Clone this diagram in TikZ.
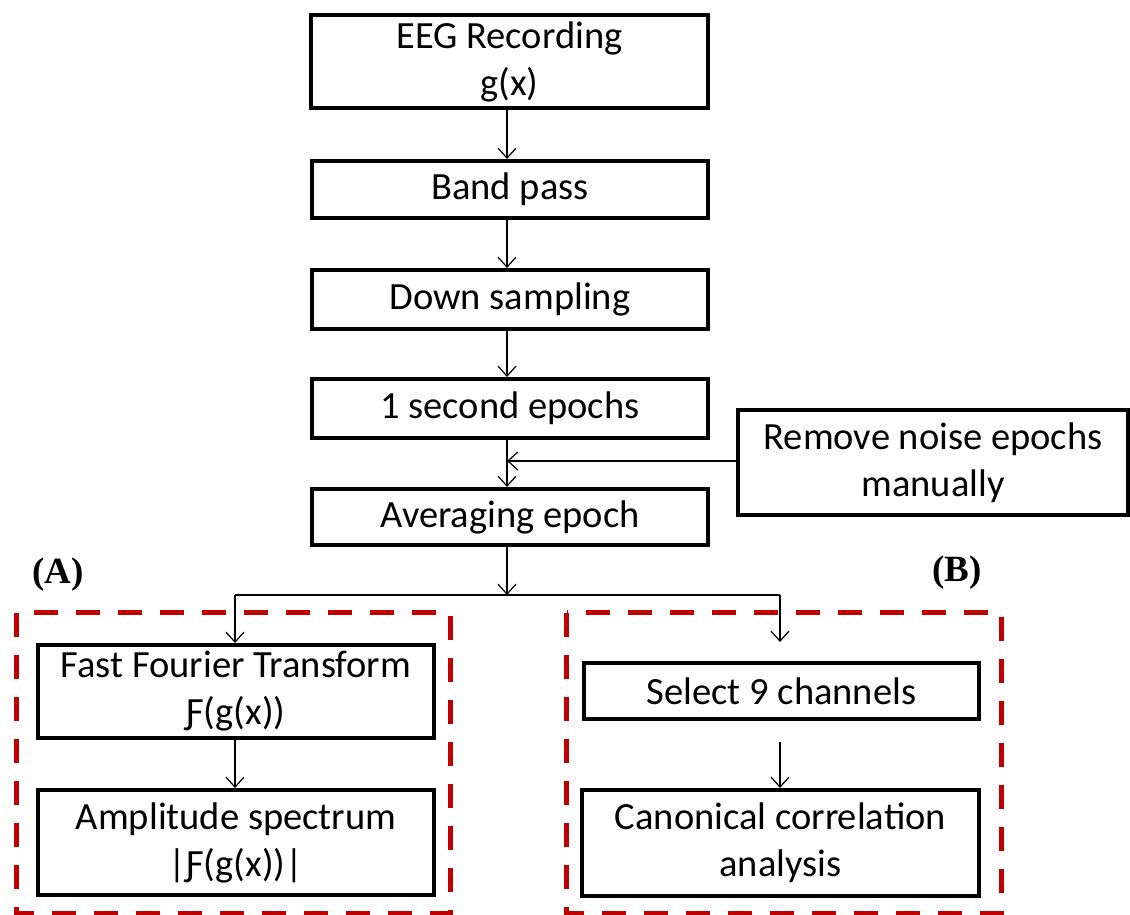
\documentclass[tikz,border=0pt]{standalone}
\usepackage{fontspec}
\setmainfont{Carlito}
\newfontfamily\labelfont{Liberation Serif}
\usetikzlibrary{arrows.meta}
\definecolor{groupred}{HTML}{C00000}
\begin{document}
\begin{tikzpicture}[x=1pt,y=-1pt,
  box/.style={draw=black, line width=4pt, rectangle, align=center, inner sep=0pt,
              font=\fontsize{38.5}{47}\selectfont},
  link/.style={draw=black, line width=1.2pt},
  flow/.style={link, -{Straight Barb[length=10pt,width=18pt,line width=1.2pt]}},
  group/.style={draw=groupred, line width=5pt, dash pattern=on 24pt off 18pt},
  tag/.style={font=\labelfont\bfseries\fontsize{37}{42}\selectfont}]
\useasboundingbox (0,0) rectangle (1130,915);

% main processing chain
\node[box, minimum width=397pt, minimum height=93pt] (eeg) at (509.5,61.5) {EEG Recording\\g(x)};
\node[box, minimum width=396pt, minimum height=57pt] (band) at (510,189.5) {Band pass};
\node[box, minimum width=396pt, minimum height=59pt] (down) at (510,299.5) {Down sampling};
\node[box, minimum width=396pt, minimum height=59pt] (epochs) at (510,408.5) {1 second epochs};
\node[box, minimum width=396pt, minimum height=56pt] (avg) at (510,517) {Averaging epoch};
\node[box, minimum width=390pt, minimum height=105pt] (remove) at (933,462.5) {Remove noise epochs\\manually};

% branch (A)
\node[box, minimum width=396pt, minimum height=93pt] (fft) at (236,691.5) {Fast Fourier Transform\\Ƒ(g(x))};
\node[box, minimum width=396pt, minimum height=105pt] (amp) at (236,842.5) {Amplitude spectrum\\|Ƒ(g(x))|};

% branch (B)
\node[box, minimum width=395pt, minimum height=56pt] (select) at (781.5,691) {Select 9 channels};
\node[box, minimum width=397pt, minimum height=106pt] (cca) at (780.5,843) {Canonical correlation\\analysis};

% group frames and their tags
\draw[group] (16.5,612.5) rectangle (450.5,913);
\draw[group] (566.5,612.5) rectangle (1001.5,913);
\node[tag] (tagA) at (58,575) {(A)};
\node[tag] (tagB) at (957,573) {(B)};

% connector helpers
\coordinate (spine) at (507,0);
\coordinate (merge) at (507,461);
\coordinate (split) at (507,595);
\coordinate (leftdrop) at (235,595);
\coordinate (rightdrop) at (780,595);
\coordinate (rightend) at (780,642);
\coordinate (selout) at (780,742);

% connectors
\draw[flow] (eeg.south -| spine) -- (band.north -| spine);
\draw[flow] (band.south -| spine) -- (down.north -| spine);
\draw[flow] (down.south -| spine) -- (epochs.north -| spine);
\draw[flow] (epochs.south -| spine) -- (avg.north -| spine);
\draw[flow] (remove.west |- merge) -- (merge);
\draw[flow] (avg.south -| spine) -- (split);
\draw[link] (leftdrop) -- (rightdrop);
\draw[flow] (leftdrop) -- (fft.north -| leftdrop);
\draw[flow] (rightdrop) -- (rightend);
\draw[flow] (fft.south -| leftdrop) -- (amp.north -| leftdrop);
\draw[flow] (selout) -- (cca.north -| selout);
\end{tikzpicture}
\end{document}
